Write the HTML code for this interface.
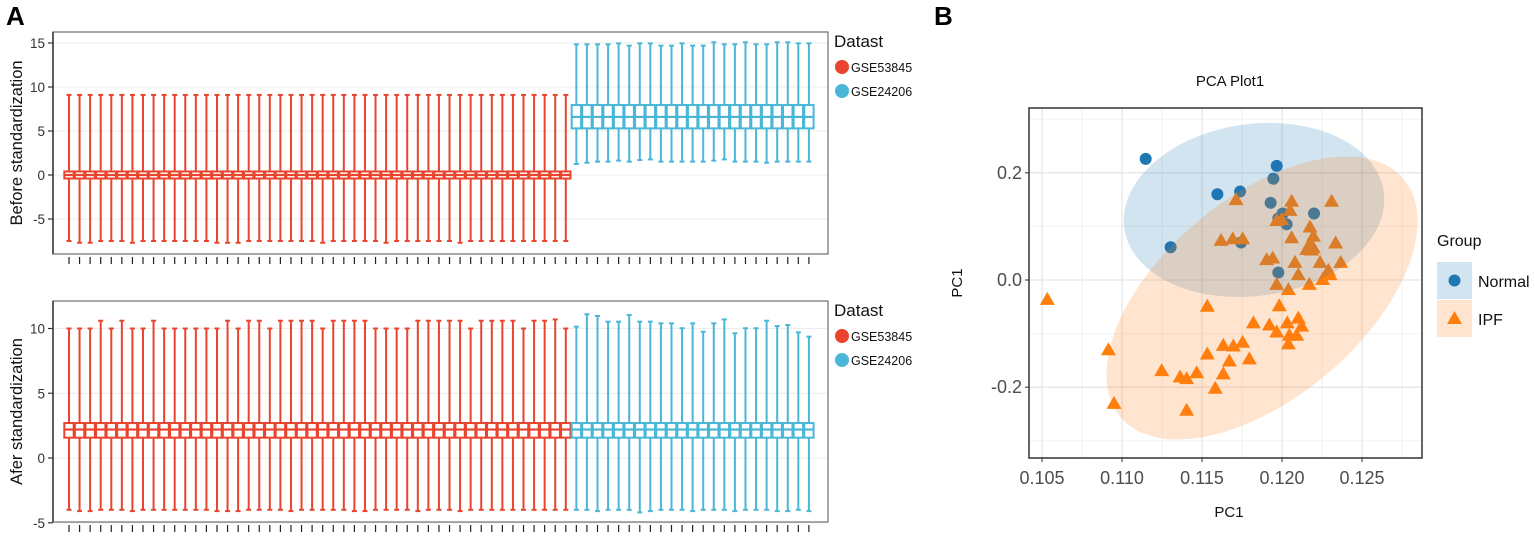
<!DOCTYPE html>
<html><head><meta charset="utf-8">
<style>
body{margin:0;background:#fff;}
svg{display:block;font-family:"Liberation Sans",Arial,sans-serif;}
</style></head>
<body>
<svg id="chart" width="1535" height="536" viewBox="0 0 1535 536"></svg>
<script>
// ---------- Panel A data ----------
const redTopMax = [9.1,9.1,9.1,9.1,9.1,9.1,9.1,9.1,9.1,9.1,9.1,9.1,9.1,9.1,9.1,9.1,9.1,9.1,9.1,9.1,9.1,9.1,9.1,9.1,9.1,9.1,9.1,9.1,9.1,9.1,9.1,9.1,9.1,9.1,9.1,9.1,9.1,9.1,9.1,9.1,9.1,9.1,9.1,9.1,9.1,9.1,9.1,9.1];
const redTopMin = [-7.5,-7.7,-7.7,-7.5,-7.5,-7.5,-7.7,-7.5,-7.5,-7.5,-7.5,-7.5,-7.5,-7.5,-7.7,-7.7,-7.7,-7.5,-7.5,-7.5,-7.5,-7.5,-7.5,-7.5,-7.7,-7.5,-7.5,-7.5,-7.5,-7.5,-7.7,-7.5,-7.5,-7.5,-7.5,-7.5,-7.5,-7.7,-7.5,-7.5,-7.5,-7.5,-7.5,-7.5,-7.5,-7.5,-7.5,-7.5];
const redTopBox = [-0.4, 0, 0.4];
const blueTopMax = [14.85,14.85,14.85,14.85,14.96,14.7,14.96,14.96,14.7,14.7,14.96,14.7,14.7,15.08,14.85,14.85,15.08,14.85,14.85,15.08,15.08,14.96,14.96];
const blueTopMin = [1.25,1.4,1.52,1.52,1.63,1.52,1.7,1.77,1.52,1.52,1.52,1.52,1.52,1.63,1.77,1.52,1.52,1.52,1.4,1.52,1.52,1.52,1.52];
const blueTopBox = [5.3, 6.6, 7.95];
const redBotMax = [10,10,10,10.6,10,10.6,10,10,10.6,10,10,10,10,10,10,10.6,10,10.6,10.6,10,10.6,10.6,10.6,10.6,10,10.6,10.6,10.6,10.6,10,10,10,10,10.6,10.6,10.6,10.6,10.6,10,10.6,10.6,10.6,10.6,10,10.6,10.6,10.7,10];
const redBotMin = [-4,-4.1,-4.1,-4,-4,-4,-4.1,-4,-4,-4,-4,-4,-4,-4,-4.1,-4.1,-4.1,-4,-4,-4,-4,-4.1,-4,-4,-4,-4,-4,-4.1,-4.1,-4,-4,-4,-4,-4.1,-4,-4,-4,-4.1,-4,-4,-4,-4,-4,-4,-4,-4,-4,-4];
const redBotBox = [1.57, 2.2, 2.7];
const blueBotMax = [10.14,11.1,10.97,10.53,10.53,11.04,10.53,10.53,10.4,10.4,10.02,10.4,9.75,10.4,10.7,9.63,10.02,10.02,10.6,10.19,10.27,9.7,9.37];
const blueBotMin = [-4,-4,-4.1,-4,-4,-4,-4.2,-4.1,-4,-4,-4,-4.1,-4,-4,-4,-4.1,-4,-4,-4,-4.1,-4.1,-4,-4.1];
const blueBotBox = [1.57, 2.2, 2.7];
const topTicks = [15,10,5,0,-5];
const botTicks = [10,5,0,-5];
const legendLabels = ["GSE53845","GSE24206"];

// ---------- Panel B data ----------
const normalX = [0.11148,0.11304,0.11596,0.11738,0.11967,0.11946,0.11929,0.11977,0.12004,0.12029,0.12200,0.11744,0.11977];
const normalY = [0.226,0.061,0.160,0.165,0.213,0.189,0.144,0.115,0.124,0.104,0.124,0.070,0.014];
const ipfX = [0.10533,0.10915,0.10950,0.11248,0.11363,0.11404,0.11467,0.11404,0.11583,0.11633,0.11533,0.11533,0.11633,0.11671,0.11696,0.11754,0.11796,0.11821,0.11713,0.11619,0.11692,0.11754,0.11904,0.11942,0.11967,0.11983,0.11921,0.11967,0.12033,0.12046,0.12092,0.12040,0.12102,0.12123,0.12040,0.12081,0.12102,0.12171,0.12238,0.12254,0.12290,0.12300,0.12367,0.12335,0.12310,0.12060,0.12050,0.12060,0.12175,0.12196,0.12171,0.12185,0.11998,0.11967,0.12196,0.12154];
const ipfY = [-0.037,-0.131,-0.231,-0.170,-0.182,-0.185,-0.174,-0.244,-0.203,-0.176,-0.139,-0.050,-0.123,-0.152,-0.124,-0.117,-0.148,-0.081,0.149,0.073,0.076,0.076,0.037,0.040,-0.009,-0.049,-0.085,-0.098,-0.081,-0.104,-0.104,-0.120,-0.072,-0.087,-0.019,0.032,0.009,-0.009,0.032,0.000,0.017,0.009,0.032,0.068,0.146,0.146,0.129,0.078,0.098,0.081,0.065,0.055,0.112,0.110,0.059,0.056];
const pcaXTicks = [0.105,0.110,0.115,0.120,0.125];
const pcaXTickLabels = ["0.105","0.110","0.115","0.120","0.125"];
const pcaYTicks = [0.2,0.0,-0.2];
const pcaYTickLabels = ["0.2","0.0","-0.2"];
const normalEllipse = [0.11825, 0.1306];
const ipfEllipse = [0.11875, -0.0336];

const NS="http://www.w3.org/2000/svg";
const svg=document.getElementById('chart');
function mk(tag,attrs,parent){const e=document.createElementNS(NS,tag);for(const k in attrs)e.setAttribute(k,attrs[k]);(parent||svg).appendChild(e);return e;}
function txt(s,attrs,parent){const e=mk('text',attrs,parent);e.textContent=s;return e;}

txt('A',{x:6,y:25,'font-size':26,'font-weight':'bold',fill:'#000'});
txt('B',{x:934,y:25,'font-size':26,'font-weight':'bold',fill:'#000'});

const RED='#e8442e', BLUE='#4bb7d6';
const bx = i => 69 + i*10.57;

function boxPanel(name, top, bottom, y, ticks, rMax,rMin,rBox,bMax,bMin,bBox,title,legY){
  const g=mk('g',{});
  
  
  ticks.forEach(t=>{mk('line',{x1:53,x2:828,y1:y(t),y2:y(t),stroke:'#ececec','stroke-width':1},g);});
  mk('rect',{x:53,y:top,width:775,height:bottom-top,fill:'none',stroke:'#6e6e6e','stroke-width':1.2},g);
  mk('line',{x1:53,x2:53,y1:top,y2:bottom,stroke:'#333','stroke-width':1.5},g);
  ticks.forEach(t=>{
    mk('line',{x1:48,x2:53,y1:y(t),y2:y(t),stroke:'#333','stroke-width':1.2},g);
    const l=txt(String(t),{x:45,y:y(t)+5,'font-size':13.5,'text-anchor':'end',fill:'#333'},g);
    
    
  });
  const N=rMax.length+bMax.length;
  for(let i=0;i<N;i++){
    mk('line',{x1:bx(i),x2:bx(i),y1:bottom+3,y2:bottom+10,stroke:'#222','stroke-width':1.2},g);
  }
  function drawBox(i,mx,mn,bxv,col){
    const b=mk('g',{},g);
    
    
    const x=bx(i);
    mk('line',{x1:x,x2:x,y1:y(mx),y2:y(mn),stroke:col,'stroke-width':2},b);
    mk('line',{x1:x-2.5,x2:x+2.5,y1:y(mx),y2:y(mx),stroke:col,'stroke-width':2},b);
    mk('line',{x1:x-2.5,x2:x+2.5,y1:y(mn),y2:y(mn),stroke:col,'stroke-width':2},b);
    mk('rect',{x:x-4.7,y:y(bxv[2]),width:9.4,height:y(bxv[0])-y(bxv[2]),fill:'#fff',stroke:col,'stroke-width':2},b);
    mk('line',{x1:x-4.7,x2:x+4.7,y1:y(bxv[1]),y2:y(bxv[1]),stroke:col,'stroke-width':2.2},b);
  }
  rMax.forEach((v,i)=>drawBox(i,v,rMin[i],rBox,RED));
  bMax.forEach((v,i)=>drawBox(rMax.length+i,v,bMin[i],bBox,BLUE));
  const cy=(top+bottom)/2;
  const tt=txt(title,{x:0,y:0,'font-size':16.5,'text-anchor':'middle',fill:'#111',transform:`translate(22,${cy}) rotate(-90)`},g);
  
  
  const lg=mk('g',{},g);
  
  
  txt('Datast',{x:834,y:legY,'font-size':17,fill:'#111'},lg);
  [RED,BLUE].forEach((c,k)=>{
    const e=mk('g',{},lg);
    
    
    mk('circle',{cx:842,cy:legY+20+k*24,r:7,fill:c},e);
    txt(legendLabels[k],{x:851,y:legY+25,'font-size':12.5,fill:'#111',dy:k*24},e);
  });
}
boxPanel('boxplot-before',32,254,v=>175-8.8*v,topTicks,redTopMax,redTopMin,redTopBox,blueTopMax,blueTopMin,blueTopBox,'Before standardization',47);
boxPanel('boxplot-after',301,522,v=>458-12.95*v,botTicks,redBotMax,redBotMin,redBotBox,blueBotMax,blueBotMin,blueBotBox,'Afer standardization',316);

// ---------- PCA ----------
const X0=1029,X1=1422,Y0=108,Y1=458;
const px=v=>1042+(v-0.105)*16000;
const py=v=>280-v*536;
const pg=mk('g',{});


txt('PCA Plot1',{x:1230,y:86,'font-size':15,'text-anchor':'middle',fill:'#111'},pg);
[0.1025,0.1075,0.1125,0.1175,0.1225,0.1275].forEach(v=>{if(px(v)>X0&&px(v)<X1)mk('line',{x1:px(v),x2:px(v),y1:Y0,y2:Y1,stroke:'#f2f2f2','stroke-width':1},pg);});
[0.3,0.1,-0.1,-0.3].forEach(v=>mk('line',{x1:X0,x2:X1,y1:py(v),y2:py(v),stroke:'#f2f2f2','stroke-width':1},pg));
pcaXTicks.forEach(v=>mk('line',{x1:px(v),x2:px(v),y1:Y0,y2:Y1,stroke:'#e6e6e6','stroke-width':1.3},pg));
pcaYTicks.forEach(v=>mk('line',{x1:X0,x2:X1,y1:py(v),y2:py(v),stroke:'#e6e6e6','stroke-width':1.3},pg));
normalX.forEach((v,i)=>{const c=mk('circle',{cx:px(v),cy:py(normalY[i]),r:6,fill:'#1f77b4'},pg);
  
  });
ipfX.forEach((v,i)=>{const x=px(v),y=py(ipfY[i]);
  const t=mk('polygon',{points:`${x},${y-8} ${x-7.5},${y+5} ${x+7.5},${y+5}`,fill:'#ff7f0e'},pg);
  
  });
const e1=mk('ellipse',{cx:0,cy:0,rx:131,ry:86,fill:'rgba(31,119,180,0.2)',transform:`translate(${px(normalEllipse[0])},${py(normalEllipse[1])}) rotate(-8)`},pg);


const e2=mk('ellipse',{cx:0,cy:0,rx:185,ry:100,fill:'rgba(255,127,14,0.2)',transform:`translate(${px(ipfEllipse[0])},${py(ipfEllipse[1])}) rotate(-40)`},pg);


mk('rect',{x:X1+0.7,y:Y0-20,width:10,height:Y1-Y0+40,fill:'#fff'},pg);
mk('rect',{x:X0,y:Y0,width:X1-X0,height:Y1-Y0,fill:'none',stroke:'#333','stroke-width':1.5},pg);
pcaXTicks.forEach((v,i)=>{mk('line',{x1:px(v),x2:px(v),y1:Y1,y2:Y1+4,stroke:'#333'},pg);
  const l=txt(pcaXTickLabels[i],{x:px(v),y:484,'font-size':18,'text-anchor':'middle',fill:'#4d4d4d'},pg);
  });
pcaYTicks.forEach((v,i)=>{mk('line',{x1:X0-4,x2:X0,y1:py(v),y2:py(v),stroke:'#333'},pg);
  const l=txt(pcaYTickLabels[i],{x:X0-7,y:py(v)+6,'font-size':18,'text-anchor':'end',fill:'#4d4d4d'},pg);
  });
txt('PC1',{x:1229,y:517,'font-size':15,'text-anchor':'middle',fill:'#111'},pg);
txt('PC1',{x:0,y:0,'font-size':15,'text-anchor':'middle',fill:'#111',transform:'translate(962,283) rotate(-90)'},pg);
const lg=mk('g',{},pg);


txt('Group',{x:1437,y:246,'font-size':16,fill:'#111'},lg);
const n=mk('g',{},lg);


mk('rect',{x:1437,y:262,width:35,height:37,fill:'rgba(31,119,180,0.2)'},n);
mk('circle',{cx:1454.5,cy:280.5,r:6,fill:'#1f77b4'},n);
txt('Normal',{x:1478,y:287,'font-size':16,fill:'#111'},n);
const f=mk('g',{},lg);


mk('rect',{x:1437,y:300,width:35,height:37,fill:'rgba(255,127,14,0.2)'},f);
mk('polygon',{points:'1454.5,311 1447,324 1462,324',fill:'#ff7f0e'},f);
txt('IPF',{x:1478,y:325,'font-size':16,fill:'#111'},f);
</script>
</body></html>
